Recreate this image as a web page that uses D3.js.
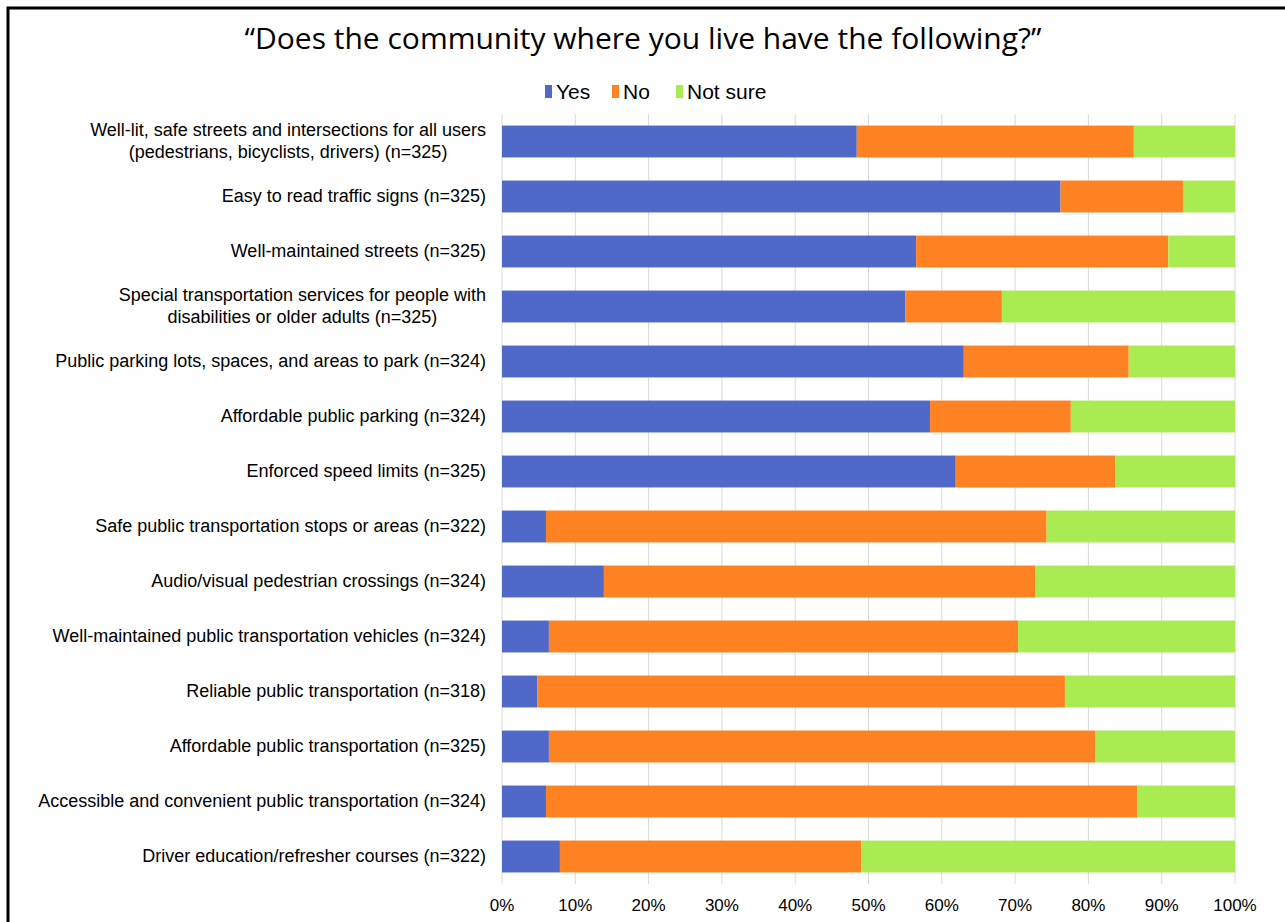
<!DOCTYPE html>
<html>
<head>
<meta charset="utf-8">
<script src="https://cdn.jsdelivr.net/npm/d3@7"></script>
<style>
body { margin: 0; background: #fff; }
</style>
</head>
<body>
<script>
var categories = [
  ["Well-lit, safe streets and intersections for all users", "(pedestrians, bicyclists, drivers) (n=325)"],
  ["Easy to read traffic signs (n=325)"],
  ["Well-maintained streets (n=325)"],
  ["Special transportation services for people with", "disabilities or older adults (n=325)"],
  ["Public parking lots, spaces, and areas to park (n=324)"],
  ["Affordable public parking (n=324)"],
  ["Enforced speed limits (n=325)"],
  ["Safe public transportation stops or areas (n=322)"],
  ["Audio/visual pedestrian crossings (n=324)"],
  ["Well-maintained public transportation vehicles (n=324)"],
  ["Reliable public transportation (n=318)"],
  ["Affordable public transportation (n=325)"],
  ["Accessible and convenient public transportation (n=324)"],
  ["Driver education/refresher courses (n=322)"]
];
var yesVals = [48.4, 76.2, 56.5, 55.0, 63.0, 58.4, 61.9, 6.0, 13.9, 6.4, 4.8, 6.4, 6.0, 7.9];
var noVals  = [37.8, 16.7, 34.4, 13.2, 22.5, 19.2, 21.8, 68.3, 58.9, 64.0, 72.0, 74.5, 80.7, 41.1];
var notSureVals = [13.8, 7.1, 9.1, 31.8, 14.5, 22.4, 16.3, 25.7, 27.2, 29.6, 23.2, 19.1, 13.3, 51.0];
var seriesNames = ["Yes", "No", "Not sure"];
var colors = ["#5069c9", "#ff8222", "#aaeb52"];
var tickVals = [0, 10, 20, 30, 40, 50, 60, 70, 80, 90, 100];

var svg = d3.select("body").append("svg")
    .attr("width", 1285)
    .attr("height", 922);

// frame
svg.append("path")
    .attr("d", "M8,922 V8 H1285")
    .attr("fill", "none")
    .attr("stroke", "black")
    .attr("stroke-width", 3);

svg.append("text")
    .attr("x", 643)
    .attr("y", 49)
    .attr("text-anchor", "middle")
    .attr("font-family", "'Open Sans', sans-serif")
    .attr("font-size", "30px")
    .attr("fill", "black")
    .text("\u201CDoes the community where you live have the following?\u201D");

var plotLeft = 502, plotRight = 1235, plotTop = 114, plotBottom = 884;

var x = d3.scaleLinear().domain([0, 100]).range([plotLeft, plotRight]);
var y = d3.scaleBand().domain(d3.range(categories.length)).range([plotTop, plotBottom]).paddingInner(0.42).paddingOuter(0.21);

// grid
svg.selectAll(".grid")
    .data(tickVals)
    .enter()
    .append("line")
    .attr("x1", function(d){ return x(d); })
    .attr("x2", function(d){ return x(d); })
    .attr("y1", plotTop)
    .attr("y2", plotBottom)
    .attr("stroke", "#d9d9d9")
    .attr("stroke-width", 1);

var rows = categories.map(function(c, i){
  return { i: i, Yes: yesVals[i], No: noVals[i], "Not sure": notSureVals[i] };
});
var stacked = d3.stack().keys(seriesNames)(rows);

svg.selectAll(".series")
    .data(stacked)
    .enter()
    .append("g")
    .attr("fill", function(d, i){ return colors[i]; })
    .selectAll("rect")
    .data(function(d){ return d; })
    .enter()
    .append("rect")
    .attr("x", function(d){ return x(d[0]); })
    .attr("width", function(d){ return x(d[1]) - x(d[0]); })
    .attr("y", function(d){ return y(d.data.i); })
    .attr("height", y.bandwidth());

// category labels
var labels = svg.selectAll(".cat")
    .data(categories)
    .enter()
    .append("text")
    .attr("font-family", "'Liberation Sans', Arial, sans-serif")
    .attr("font-size", "18px")
    .attr("fill", "black")
    .attr("text-anchor", "middle");

labels.each(function(lines, i){
  var t = d3.select(this);
  var cy = y(i) + y.bandwidth() / 2;
  var lh = 22;
  lines.forEach(function(l, k){
    t.append("tspan")
      .attr("y", cy + 5 + (k - (lines.length - 1) / 2) * lh)
      .text(l);
  });
  var maxW = 0;
  t.selectAll("tspan").each(function(){ maxW = Math.max(maxW, this.getComputedTextLength()); });
  t.selectAll("tspan").attr("x", 486 - maxW / 2);
});

// x axis labels
svg.selectAll(".tick")
    .data(tickVals)
    .enter()
    .append("text")
    .attr("x", function(d){ return x(d); })
    .attr("y", 911)
    .attr("text-anchor", "middle")
    .attr("font-family", "'Liberation Sans', Arial, sans-serif")
    .attr("font-size", "17px")
    .attr("fill", "black")
    .text(function(d){ return d + "%"; });

// legend
var legendX = [545, 612, 676];
var legend = svg.selectAll(".legend")
    .data(seriesNames)
    .enter()
    .append("g")
    .attr("transform", function(d, i){ return "translate(" + legendX[i] + ",0)"; });
legend.append("rect")
    .attr("x", 0)
    .attr("y", 85)
    .attr("width", 7)
    .attr("height", 13)
    .attr("fill", function(d, i){ return colors[i]; });
legend.append("text")
    .attr("x", 11)
    .attr("y", 99)
    .attr("font-family", "'Liberation Sans', Arial, sans-serif")
    .attr("font-size", "21px")
    .attr("fill", "black")
    .text(function(d){ return d; });
</script>
</body>
</html>
